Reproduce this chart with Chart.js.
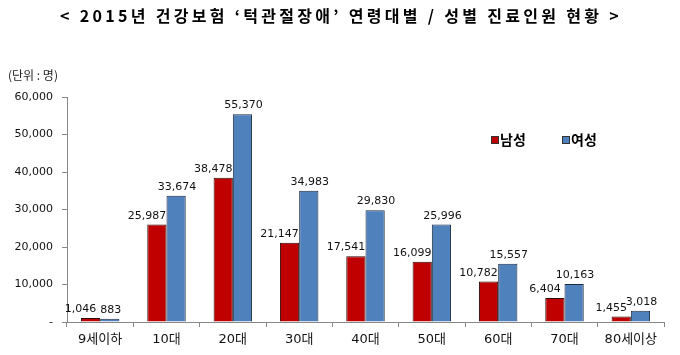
<!DOCTYPE html>
<html><head><meta charset="utf-8">
<script src="https://cdn.jsdelivr.net/npm/chart.js@4"></script>
<style>html,body{margin:0;padding:0;background:#fff;}#wrap{width:680px;height:355px;position:relative;}</style>
</head><body><div id="wrap"><canvas id="c" width="680" height="355"></canvas></div>
<script>
const titleText = "< 2015년 건강보험 ‘턱관절장애’ 연령대별 / 성별 진료인원 현황 >";
const unitText = "(단위 : 명)";
const categories = ["9세이하","10대","20대","30대","40대","50대","60대","70대","80세이상"];
const seriesNames = ["남성","여성"];
const maleValues = [1046,25987,38478,21147,17541,16099,10782,6404,1455];
const femaleValues = [883,33674,55370,34983,29830,25996,15557,10163,3018];
const yTicks = [0,10000,20000,30000,40000,50000,60000];

const FONT = "Verdana, 'DejaVu Sans', 'Noto Sans CJK KR', sans-serif";
const fmt = v => v === 0 ? "-" : v.toLocaleString("en-US");
const labelShift = [-10, 1];

const extras = {
  id: "extras",
  afterDatasetsDraw(chart) {
    const ctx = chart.ctx;
    ctx.save();
    // value labels
    ctx.font = "11px " + FONT;
    ctx.fillStyle = "#111";
    ctx.textAlign = "center";
    ctx.textBaseline = "alphabetic";
    chart.data.datasets.forEach((ds, di) => {
      const meta = chart.getDatasetMeta(di);
      meta.data.forEach((bar, i) => {
        ctx.fillText(fmt(ds.data[i]), bar.x + labelShift[di], bar.y - 6);
      });
    });
    // title
    ctx.font = "bold 16px 'Noto Sans CJK KR', sans-serif";
    ctx.letterSpacing = "3.3px";
    ctx.textBaseline = "middle";
    ctx.fillStyle = "#000";
    ctx.fillText(titleText, 341, 16);
    ctx.letterSpacing = "0px";
    // unit
    ctx.font = "12px 'Noto Sans CJK KR', sans-serif";
    ctx.textAlign = "left";
    ctx.fillStyle = "#222";
    ctx.fillText(unitText, 8, 75);
    // legend
    let lx = 491;
    chart.data.datasets.forEach((ds) => {
      ctx.fillStyle = ds.backgroundColor;
      ctx.fillRect(lx, 136, 8, 8);
      ctx.strokeStyle = "#333";
      ctx.lineWidth = 1;
      ctx.strokeRect(lx + 0.5, 136.5, 7, 7);
      ctx.fillStyle = "#000";
      ctx.font = "bold 14px 'Noto Sans CJK KR', sans-serif";
      ctx.textBaseline = "middle";
      ctx.fillText(ds.label, lx + 9, 140);
      lx += 71;
    });
    ctx.restore();
  }
};

new Chart(document.getElementById("c"), {
  type: "bar",
  data: {
    labels: categories,
    datasets: [
      { label: seriesNames[0], data: maleValues, backgroundColor: "#C00000", borderColor: "#2a0a0a", borderWidth: 1 },
      { label: seriesNames[1], data: femaleValues, backgroundColor: "#4F81BD", borderColor: "#1a2a40", borderWidth: 1 }
    ]
  },
  options: {
    responsive: false,
    animation: false,
    layout: { padding: { top: 97, right: 16, left: 0, bottom: 0 } },
    plugins: { legend: { display: false }, tooltip: { enabled: false } },
    datasets: { bar: { categoryPercentage: 0.58, barPercentage: 1.0 } },
    scales: {
      x: {
        grid: { display: true, offset: true, drawOnChartArea: false, drawTicks: true, tickLength: 5, color: "#888" },
        border: { display: true, color: "#888", width: 1 },
        ticks: { color: "#111", font: { size: 13, family: FONT }, padding: 5, maxRotation: 0 },
        afterFit(s) { s.height = 33; }
      },
      y: {
        min: 0, max: 60000,
        grid: { display: true, drawOnChartArea: false, drawTicks: true, tickLength: 5, color: "#888" },
        border: { display: true, color: "#888", width: 1 },
        afterBuildTicks(s) { s.ticks = yTicks.map(v => ({ value: v })); },
        ticks: { color: "#111", font: { size: 11, family: FONT }, padding: 9, callback: v => fmt(v) },
        afterFit(s) { s.width = 67; }
      }
    }
  },
  plugins: [extras]
});
</script></body></html>
